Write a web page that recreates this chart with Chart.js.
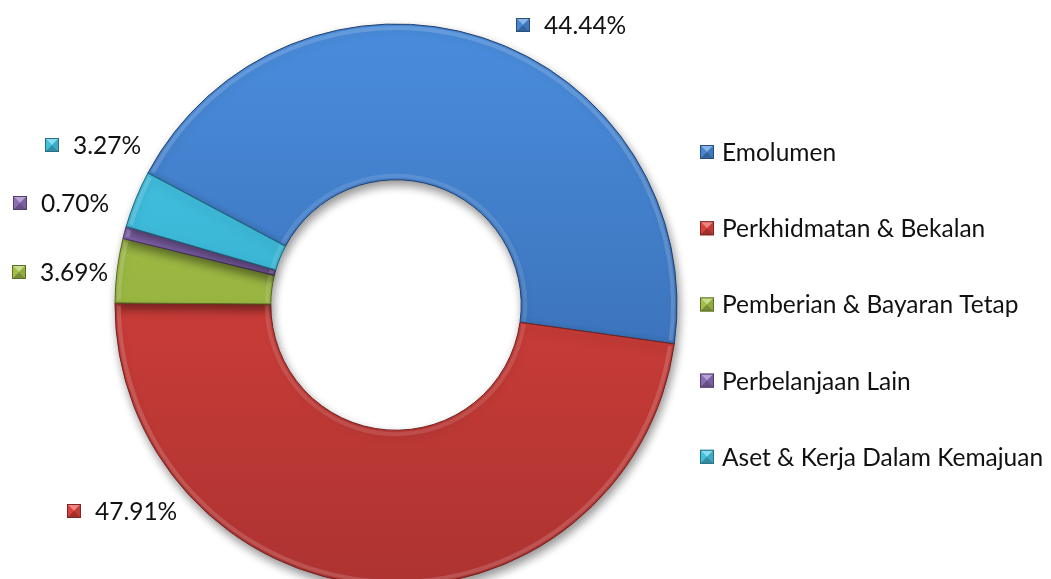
<!DOCTYPE html>
<html>
<head>
<meta charset="utf-8">
<script src="https://cdn.jsdelivr.net/npm/chart.js@4/dist/chart.umd.min.js"></script>
<style>
  html, body { margin: 0; padding: 0; background: #fff; overflow: hidden; }
  #canvas { display: block; }
</style>
</head>
<body>
<canvas id="canvas" width="1051" height="600"></canvas>
<script>
const categories = [
  "Emolumen",
  "Perkhidmatan & Bekalan",
  "Pemberian & Bayaran Tetap",
  "Perbelanjaan Lain",
  "Aset & Kerja Dalam Kemajuan",
];
const shares = [44.44, 47.91, 3.69, 0.7, 3.27];
const valueLabels = ["44.44%", "47.91%", "3.69%", "0.70%", "3.27%"];

// light (top) and dark (bottom) shade of each slice
const topColors = ["#4a8ddd", "#e4453f", "#abc94e", "#9272bf", "#48c9e8"];
const bottomColors = ["#3262a4", "#ad3331", "#86a034", "#6c4e94", "#2a9dbd"];

// where each percentage label sits, relative to the ring centre
const labelOffsets = [
  [120, -280],
  [-329, 206],
  [-384, -33],
  [-383, -102],
  [-351, -160],
];

const FONT = '24.5px Lato, "Noto Sans", sans-serif';

const canvas = document.getElementById("canvas");
const ctx = canvas.getContext("2d");

function shade(hex, amt) {
  const n = parseInt(hex.slice(1), 16);
  let r = (n >> 16) & 255, g = (n >> 8) & 255, b = n & 255;
  const f = (c) => Math.max(0, Math.min(255, Math.round(amt > 0 ? c + (255 - c) * amt : c * (1 + amt))));
  return `rgb(${f(r)},${f(g)},${f(b)})`;
}

// little bevelled square used by both the legend and the value labels
function drawKey(c, x, y, size, color) {
  const cx = x + size / 2, cy = y + size / 2;
  c.save();
  c.fillStyle = color;
  c.fillRect(x, y, size, size);
  const tri = (pts, fill) => {
    c.beginPath();
    c.moveTo(pts[0], pts[1]);
    c.lineTo(pts[2], pts[3]);
    c.lineTo(pts[4], pts[5]);
    c.closePath();
    c.fillStyle = fill;
    c.fill();
  };
  tri([x, y, x + size, y, cx, cy], shade(color, 0.35));
  tri([x, y, x, y + size, cx, cy], shade(color, -0.05));
  tri([x + size, y, x + size, y + size, cx, cy], shade(color, -0.15));
  tri([x, y + size, x + size, y + size, cx, cy], shade(color, -0.3));
  c.strokeStyle = shade(color, -0.45);
  c.lineWidth = 1;
  c.strokeRect(x + 0.5, y + 0.5, size - 1, size - 1);
  c.restore();
}

function sliceFill(context) {
  const chart = context.chart;
  const i = context.dataIndex;
  const area = chart.chartArea;
  if (!area) return topColors[i];
  const g = chart.ctx.createLinearGradient(0, area.top, 0, area.bottom);
  g.addColorStop(0, topColors[i]);
  g.addColorStop(1, bottomColors[i]);
  return g;
}

const ringShadow = {
  id: "ringShadow",
  beforeDatasetsDraw(chart) {
    const c = chart.ctx;
    c.save();
    c.shadowColor = "rgba(0,0,0,0.42)";
    c.shadowBlur = 10;
    c.shadowOffsetX = 2;
    c.shadowOffsetY = 5;
  },
  afterDatasetsDraw(chart) {
    chart.ctx.restore();
    // soft rim highlight for the bevel look
    const meta = chart.getDatasetMeta(0);
    const c = chart.ctx;
    meta.data.forEach((arc) => {
      const p = arc.getProps(["x", "y", "startAngle", "endAngle", "outerRadius", "innerRadius"]);
      c.save();
      c.strokeStyle = "rgba(255,255,255,0.16)";
      c.lineWidth = 4;
      c.beginPath();
      c.arc(p.x, p.y, p.outerRadius - 4, p.startAngle + 0.01, p.endAngle - 0.01);
      c.stroke();
      c.strokeStyle = "rgba(255,255,255,0.12)";
      c.beginPath();
      c.arc(p.x, p.y, p.innerRadius + 4, p.startAngle + 0.01, p.endAngle - 0.01);
      c.stroke();
      c.restore();
    });
  },
};

const labelsAndLegend = {
  id: "labelsAndLegend",
  afterDraw(chart) {
    const c = chart.ctx;
    const meta = chart.getDatasetMeta(0);
    const cx = meta.data[0].x, cy = meta.data[0].y;
    c.save();
    c.font = FONT;
    c.textBaseline = "middle";
    c.textAlign = "left";

    // value labels
    valueLabels.forEach((txt, i) => {
      const x = cx + labelOffsets[i][0];
      const y = cy + labelOffsets[i][1];
      drawKey(c, x, y - 7, 14, topColors[i]);
      c.fillStyle = "#111";
      c.fillText(txt, x + 28, y + 1);
    });

    // legend
    const legX = 700, legY = 152, step = 76.2;
    categories.forEach((name, i) => {
      const y = legY + i * step;
      drawKey(c, legX, y - 7, 14, topColors[i]);
      c.fillStyle = "#111";
      c.fillText(name, legX + 22, y + 1);
    });
    c.restore();
  },
};

new Chart(ctx, {
  type: "doughnut",
  data: {
    labels: categories,
    datasets: [
      {
        data: shares,
        backgroundColor: sliceFill,
        borderColor: bottomColors.map((h) => shade(h, -0.35)),
        borderWidth: 1,
      },
    ],
  },
  options: {
    responsive: false,
    animation: false,
    rotation: -62,
    radius: 281,
    cutout: 125,
    layout: { padding: { left: 115, top: 24, right: 374, bottom: 14 } },
    plugins: {
      legend: { display: false },
      tooltip: { enabled: false },
    },
  },
  plugins: [ringShadow, labelsAndLegend],
});
</script>
</body>
</html>
